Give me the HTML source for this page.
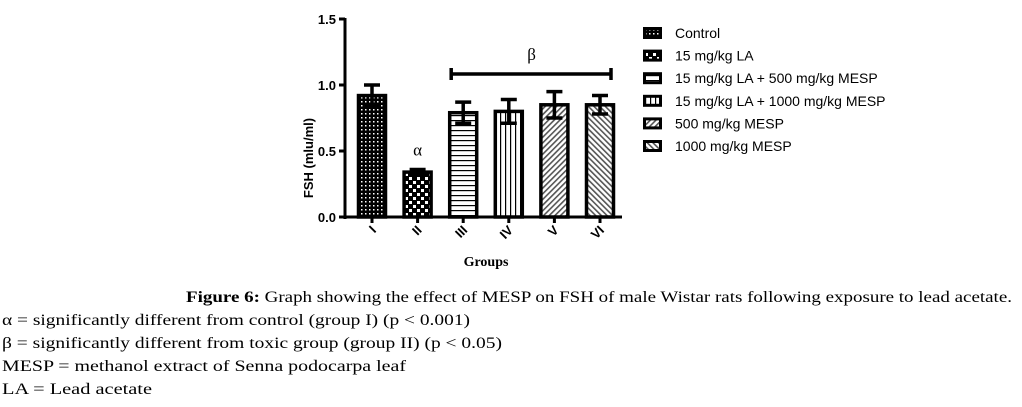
<!DOCTYPE html>
<html><head><meta charset="utf-8"><style>
body{margin:0;background:#fff;}
svg{display:block;}
.ax{font-family:"Liberation Sans",sans-serif;font-weight:bold;font-size:13px;}
.lg{font-family:"Liberation Sans",sans-serif;font-size:14px;}
.cap{font-family:"Liberation Serif",serif;font-size:16px;}
</style></head><body>
<svg id="chart" width="1022" height="407" viewBox="0 0 1022 407" xmlns="http://www.w3.org/2000/svg">
<defs>
<pattern id="p0" width="4" height="4" patternUnits="userSpaceOnUse"><rect width="4" height="4" fill="#000"/><rect x="1" y="1" width="1.5" height="1.5" fill="#fff"/></pattern>
<pattern id="p1" width="8" height="8" patternUnits="userSpaceOnUse"><rect width="8" height="8" fill="#000"/><rect x="1" y="1" width="3" height="3" fill="#fff"/><rect x="5" y="5" width="3" height="3" fill="#fff"/></pattern>
<pattern id="p2" width="5" height="5" patternUnits="userSpaceOnUse"><rect width="5" height="5" fill="#fff"/><rect y="0" width="5" height="1.2" fill="#000"/></pattern>
<pattern id="p3" width="5" height="5" patternUnits="userSpaceOnUse"><rect width="5" height="5" fill="#fff"/><rect x="0" width="1.2" height="5" fill="#000"/></pattern>
<pattern id="p4" width="4" height="4" patternUnits="userSpaceOnUse" patternTransform="rotate(45)"><rect width="4" height="4" fill="#fff"/><rect width="1.6" height="4" fill="#555"/></pattern>
<pattern id="p5" width="4" height="4" patternUnits="userSpaceOnUse" patternTransform="rotate(-45)"><rect width="4" height="4" fill="#fff"/><rect width="1.6" height="4" fill="#555"/></pattern>
</defs>
<g id="plot"></g>
<g id="legend"></g>
<g class="cap" fill="#000">
<text x="186" y="302" textLength="826" lengthAdjust="spacingAndGlyphs"><tspan font-weight="bold">Figure 6:</tspan> Graph showing the effect of MESP on FSH of male Wistar rats following exposure to lead acetate.</text>
<text x="2" y="325" textLength="468" lengthAdjust="spacingAndGlyphs">α = significantly different from control (group I) (p &lt; 0.001)</text>
<text x="2" y="348" textLength="500" lengthAdjust="spacingAndGlyphs">β = significantly different from toxic group (group II) (p &lt; 0.05)</text>
<text x="2" y="371" textLength="404" lengthAdjust="spacingAndGlyphs">MESP = methanol extract of Senna podocarpa leaf</text>
<text x="2" y="394" textLength="150" lengthAdjust="spacingAndGlyphs">LA = Lead acetate</text>
</g>
</svg>
<script>
const categories = ["I","II","III","IV","V","VI"];
const values = [0.92,0.34,0.79,0.80,0.85,0.85];
const errors = [0.08,0.02,0.08,0.09,0.10,0.07];
const yTicks = [0.0,0.5,1.0,1.5];
const legendLabels = ["Control","15 mg/kg LA","15 mg/kg LA + 500 mg/kg MESP","15 mg/kg LA + 1000 mg/kg MESP","500 mg/kg MESP","1000 mg/kg MESP"];

const NS="http://www.w3.org/2000/svg";
const plot=document.getElementById('plot');
const leg=document.getElementById('legend');
function mk(tag,attrs,parent){const e=document.createElementNS(NS,tag);for(const k in attrs)e.setAttribute(k,attrs[k]);parent.appendChild(e);return e;}
const y0=217,yTop=19,yMax=1.5;
function yS(v){return y0-(v/yMax)*(y0-yTop);}
const x0=372,step=45.6;
function xS(i){return x0+i*step;}
const axX=345;

const ya=mk('line',{x1:axX,y1:yS(1.5)-1,x2:axX,y2:y0+2,stroke:'#000','stroke-width':3},plot);


yTicks.forEach(t=>{
  const tk=mk('line',{x1:axX-6,y1:yS(t),x2:axX,y2:yS(t),stroke:'#000','stroke-width':3},plot);
  
  
  const tl=mk('text',{x:axX-9,y:yS(t)+5,'text-anchor':'end',class:'ax'},plot);
  tl.textContent=t.toFixed(1);
  
  
});
const yt=mk('text',{x:0,y:0,class:'ax','font-size':'14','text-anchor':'middle',transform:`translate(313,${(yS(0)+yS(1.5))/2+40}) rotate(-90)`},plot);
yt.textContent='FSH (mlu/ml)';


const xa=mk('line',{x1:axX-1,y1:y0,x2:xS(5)+22,y2:y0,stroke:'#000','stroke-width':3},plot);



categories.forEach((c,i)=>{
  const cx=xS(i),w=27;
  const eTop=yS(values[i]+errors[i]),eBot=yS(values[i]-errors[i]);
  const bar=mk('rect',{x:cx-w/2,y:yS(values[i]),width:w,height:y0-yS(values[i]),fill:`url(#p${i})`,stroke:'#000','stroke-width':3.5},plot);
  
  
  const eb=mk('path',{d:`M${cx},${eTop}V${eBot}M${cx-8},${eTop}H${cx+8}M${cx-8},${eBot}H${cx+8}`,stroke:'#000','stroke-width':3.5,fill:'none'},plot);
  
  
  const tk=mk('line',{x1:cx,y1:y0,x2:cx,y2:y0+6,stroke:'#000','stroke-width':3},plot);
  
  
  const tl=mk('text',{x:0,y:0,class:'ax','font-size':'14','text-anchor':'end',transform:`translate(${cx+5},${y0+14}) rotate(-45)`},plot);
  tl.textContent=c;
  
  
});
const xt=mk('text',{x:(xS(0)+xS(5))/2,y:266,'text-anchor':'middle','font-family':'Liberation Serif, serif','font-weight':'bold','font-size':'14'},plot);
xt.textContent='Groups';


const al=mk('text',{x:xS(1),y:yS(values[1]+errors[1])-14,'text-anchor':'middle','font-family':'Liberation Serif, serif','font-size':'17'},plot);
al.textContent='α';


const by=74;
const br=mk('path',{d:`M${xS(2)-12},${by}H${xS(5)+11}M${xS(2)-12},${by-6}V${by+6}M${xS(5)+11},${by-6}V${by+6}`,stroke:'#000','stroke-width':3.5,fill:'none'},plot);


const bt=mk('text',{x:(xS(2)+xS(5))/2,y:60,'text-anchor':'middle','font-family':'Liberation Serif, serif','font-size':'17'},plot);
bt.textContent='β';



legendLabels.forEach((l,i)=>{
  const y=33+i*22.6;
  const g=mk('g',{},leg);
  
  
  mk('rect',{x:643,y:y-6,width:19,height:12,fill:'#000'},g);
  mk('rect',{x:646,y:y-3,width:13,height:6,fill:`url(#p${i})`},g);
  const t=mk('text',{x:675,y:y+5,class:'lg'},g);
  t.textContent=l;
});
</script>
</body></html>
